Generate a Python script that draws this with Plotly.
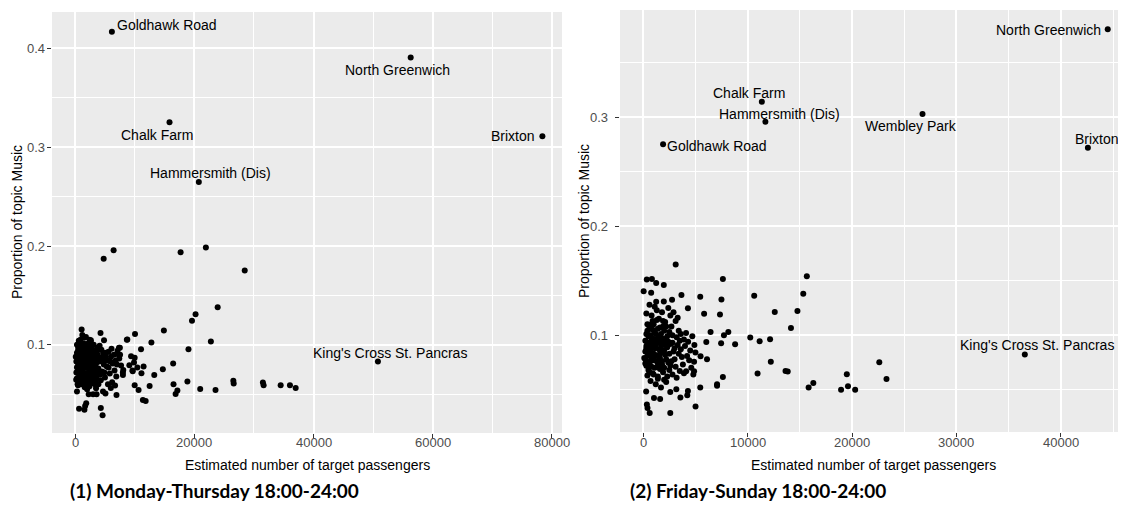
import plotly.graph_objects as go

# ---------------- data: (1) Monday-Thursday ----------------
left_x = [4780, 6450, 17690, 21930, 28450, 23910, 20200, 19600, 14880, 22770, 12790, 10040, 8670,
          19010, 11050, 16440, 14710, 13270, 11480, 11120, 18830, 16500, 17150, 16850, 20980, 23550,
          26540, 26600, 31500, 31620, 34480, 36040, 37000, 12490, 9980, 10640, 11360, 11830, 4600,
          4300, 1850, 1670, 650, 1550, 1080, 4250, 4840, 2630, 7530, 7350, 9380, 9980, 9090, 9620,
          8010, 8070, 6690, 6930, 5980, 5080, 4670, 3470, 3000, 3590, 2270, 300, 480, 170, 8750, 720,
          9650, 10430, 9870,
          300, 500, 400, 600, 300, 800, 500, 900, 1100, 1200, 1000, 1300, 1100, 1400, 1600, 1500,
          1700, 1900, 1800, 2000, 1600, 2200, 2100, 2400, 2600, 2300, 2700, 2500, 2800, 2900, 3100,
          3300, 3000, 3400, 3200, 3600, 3500, 3800, 4000, 3900, 4200, 4400, 4600, 4800, 4500, 5000,
          5200, 5400, 5600, 5800, 6000, 6300, 6600, 6900, 7100, 7400, 7700, 8000, 6200, 5500, 700,
          900, 1400, 1900, 2200, 2900, 3600, 4100, 200, 600, 1200, 1800, 2600, 3700, 400, 1000, 1500,
          2000, 2400, 3000, 200, 800, 1300, 1700, 2300, 2800, 3300, 4300, 4700, 5300, 5900, 6500,
          7000, 7500, 100, 700, 1600, 2100, 2500, 3500, 3900, 300, 1000, 1800, 2700, 3400,
          500, 700, 900, 1200, 1400, 1500, 1700, 1900, 2100, 2300, 2500, 2700, 2900, 3100, 3300,
          400, 600, 800, 1100, 1300, 1600, 1800, 2000, 2200, 2400, 2600, 2800, 3000, 3200, 3400,
          300, 900, 1500, 2100, 2700, 3800, 4100, 4600, 5100, 5600, 6100, 6800, 7300, 1200, 1900,
          2600, 3900, 4900, 600, 1000]
left_y = [0.187, 0.1957, 0.1937, 0.1985, 0.1751, 0.1379, 0.1308, 0.1244, 0.1145, 0.1034, 0.1023,
          0.1109, 0.105, 0.0956, 0.0956, 0.081, 0.0753, 0.0695, 0.078, 0.0713, 0.0628, 0.060, 0.0536,
          0.0503, 0.0553, 0.0543, 0.0635, 0.0607, 0.0617, 0.0591, 0.0591, 0.0591, 0.0563, 0.0584,
          0.0591, 0.0543, 0.0442, 0.0431, 0.0286, 0.036, 0.0408, 0.038, 0.0353, 0.0343, 0.1155,
          0.1119, 0.1046, 0.1046, 0.0898, 0.097, 0.0885, 0.0868, 0.0794, 0.0739, 0.0695, 0.0746,
          0.0587, 0.0492, 0.0563, 0.0506, 0.0526, 0.0591, 0.050, 0.050, 0.050, 0.0526, 0.0591,
          0.0645, 0.1054, 0.102, 0.0733, 0.077, 0.082,
          0.092, 0.085, 0.078, 0.071, 0.066, 0.060, 0.098, 0.102, 0.095, 0.088, 0.081, 0.074, 0.068,
          0.063, 0.057, 0.107, 0.099, 0.091, 0.084, 0.077, 0.070, 0.065, 0.059, 0.105, 0.097, 0.089,
          0.082, 0.076, 0.069, 0.062, 0.100, 0.093, 0.086, 0.079, 0.072, 0.066, 0.056, 0.090, 0.083,
          0.076, 0.070, 0.095, 0.087, 0.080, 0.073, 0.067, 0.092, 0.084, 0.077, 0.071, 0.088, 0.081,
          0.074, 0.068, 0.094, 0.086, 0.079, 0.072, 0.062, 0.060, 0.088, 0.075, 0.092, 0.071, 0.094,
          0.088, 0.082, 0.099, 0.083, 0.104, 0.110, 0.108, 0.103, 0.097, 0.060, 0.064, 0.066, 0.055,
          0.058, 0.061, 0.072, 0.094, 0.083, 0.079, 0.073, 0.079, 0.068, 0.064, 0.092, 0.078, 0.083,
          0.090, 0.080, 0.097, 0.088, 0.068, 0.087, 0.086, 0.069, 0.088, 0.071, 0.077, 0.090, 0.062,
          0.092, 0.064,
          0.095, 0.082, 0.070, 0.099, 0.086, 0.078, 0.093, 0.085, 0.080, 0.096, 0.088, 0.072, 0.095,
          0.083, 0.075, 0.089, 0.064, 0.079, 0.085, 0.070, 0.097, 0.067, 0.091, 0.078, 0.084, 0.066,
          0.086, 0.092, 0.078, 0.087, 0.100, 0.105, 0.101, 0.101, 0.099, 0.095, 0.087, 0.083, 0.088,
          0.093, 0.096, 0.084, 0.090, 0.060, 0.064, 0.061, 0.060, 0.072, 0.073, 0.097]
left_names = ["Goldhawk Road", "North Greenwich", "Chalk Farm", "Hammersmith (Dis)", "Brixton",
              "King's Cross St. Pancras"]
left_named_x = [6160, 56300, 15830, 20750, 78400, 50800]
left_named_y = [0.4169, 0.3909, 0.3254, 0.2648, 0.3112, 0.083]
left_xticks = [0, 20000, 40000, 60000, 80000]
left_yticks = [0.1, 0.2, 0.3, 0.4]

# ---------------- data: (2) Friday-Sunday ----------------
right_x = [3110, 15670, 7630, 15330, 10630, 7490, 5460, 14770, 12600, 7350, 5830, 4280, 3660, 14150,
           6450, 8150, 7730, 10250, 12150, 11150, 8800, 7460, 6040, 12220, 10950, 13630, 13840,
           22610, 23300, 19500, 19610, 18950, 20300, 16290, 15840, 7630, 7070, 7070, 5460, 5010, 2590,
           6110, 5490, 4870, 4870, 4110, 4280, 4220, 3560, 3170, 2590, 1030, 1620, 280, 410, 620, 350,
           40, 340, 830, 1240, 1970, 760, 1240, 1970, 2760,
           200, 300, 400, 200, 500, 300, 600, 500, 700, 800, 600, 900, 1000, 1100, 900, 1200, 1000,
           1300, 1100, 1400, 1500, 1400, 1600, 1500, 1700, 1600, 1800, 1900, 2000, 2100, 2000, 2200,
           2300, 2100, 2400, 2500, 2600, 2700, 2800, 2600, 2900, 3000, 3100, 3200, 3300, 3400, 3500,
           3600, 3700, 3800, 3900, 4100, 4300, 4500, 4700, 4900, 4400, 4600, 4800, 5000, 100, 400,
           700, 1200, 1700, 2200, 300, 800, 1300, 1800, 600, 1100, 2400, 2900, 3100, 1900, 900, 400,
           1500, 2500, 1300, 800, 3300, 3900, 2700, 1600, 500, 2300, 4200, 200, 1000, 1900, 2800,
           3500, 700, 1700,
           300, 500, 700, 900, 1100, 1300, 1500, 1700, 1900, 2100, 2300, 400, 600, 800, 1000, 1200,
           1400, 1600, 1800, 2000, 2200, 2400, 200, 500, 700, 900, 1100, 1300, 1500, 1700, 1900, 2500,
           2800, 3000, 3200, 3400, 300, 600, 1000, 1400, 2600, 3600, 4000, 800, 1200, 1600, 2000,
           2200, 400, 1800]
right_y = [0.165, 0.1542, 0.1515, 0.138, 0.1361, 0.1328, 0.1352, 0.1223, 0.1214, 0.119, 0.1196,
           0.1248, 0.137, 0.1067, 0.103, 0.103, 0.100, 0.0979, 0.0963, 0.0945, 0.0917, 0.0926, 0.0938,
           0.0755, 0.0648, 0.0672, 0.0666, 0.0752, 0.0598, 0.0642, 0.0531, 0.050, 0.050, 0.0562,
           0.0519, 0.0617, 0.055, 0.0535, 0.0519, 0.0345, 0.0286, 0.078, 0.0807, 0.0755, 0.0669,
           0.0669, 0.0488, 0.0449, 0.0427, 0.0504, 0.0479, 0.0424, 0.0415, 0.0483, 0.0332, 0.0286,
           0.0363, 0.1404, 0.1512, 0.1517, 0.148, 0.146, 0.1389, 0.1306, 0.131, 0.1325,
           0.095, 0.088, 0.081, 0.074, 0.068, 0.101, 0.107, 0.092, 0.085, 0.078, 0.072, 0.065, 0.110,
           0.103, 0.097, 0.090, 0.083, 0.076, 0.070, 0.062, 0.115, 0.106, 0.099, 0.093, 0.086, 0.079,
           0.073, 0.066, 0.059, 0.112, 0.104, 0.097, 0.089, 0.082, 0.075, 0.068, 0.118, 0.108, 0.100,
           0.092, 0.085, 0.078, 0.071, 0.061, 0.116, 0.104, 0.095, 0.087, 0.080, 0.073, 0.065, 0.102,
           0.094, 0.086, 0.099, 0.091, 0.077, 0.070, 0.064, 0.084, 0.079, 0.063, 0.058, 0.055, 0.052,
           0.057, 0.120, 0.118, 0.123, 0.121, 0.128, 0.126, 0.125, 0.121, 0.113, 0.108, 0.113, 0.110,
           0.087, 0.083, 0.096, 0.091, 0.091, 0.096, 0.076, 0.069, 0.075, 0.062, 0.081, 0.085, 0.077,
           0.094, 0.064, 0.067, 0.100, 0.101,
           0.090, 0.083, 0.094, 0.080, 0.088, 0.081, 0.098, 0.092, 0.084, 0.091, 0.099, 0.104, 0.087,
           0.071, 0.093, 0.101, 0.074, 0.107, 0.097, 0.086, 0.078, 0.094, 0.078, 0.099, 0.076, 0.105,
           0.082, 0.114, 0.071, 0.088, 0.113, 0.103, 0.093, 0.088, 0.098, 0.083, 0.072, 0.066, 0.064,
           0.060, 0.072, 0.101, 0.090, 0.110, 0.096, 0.083, 0.070, 0.108, 0.093, 0.076]
right_names = ["North Greenwich", "Chalk Farm", "Hammersmith (Dis)", "Goldhawk Road", "Wembley Park",
               "Brixton", "King's Cross St. Pancras"]
right_named_x = [44490, 11360, 11700, 1900, 26750, 42590, 36550]
right_named_y = [0.381, 0.3144, 0.296, 0.2753, 0.3031, 0.2722, 0.0823]
right_xticks = [0, 10000, 20000, 30000, 40000]
right_yticks = [0.1, 0.2, 0.3]

captions = ["(1) Monday-Thursday 18:00-24:00", "(2) Friday-Sunday 18:00-24:00"]
x_title = "Estimated number of target passengers"
y_title = "Proportion of topic Music"

# ---------------- styling / layout ----------------
# The page body has an 8px margin, so the figure is drawn 8px smaller and all
# positions below are given in window pixels and converted.
OFF = 8
W, H = 1126 - OFF, 508 - OFF
TXT = "Liberation Sans, Arial, sans-serif"
marker = dict(color="black", size=6)


def px(xp):
    return (xp - OFF) / W


def py(yp):
    return 1 - (yp - OFF) / H


# label placement: (xanchor, xshift, yshift) in pixels
left_label_pos = [("left", 3, 7), ("center", -13, -13), ("center", -13, -13), ("center", 12, 9),
                  ("right", -5, 0), ("center", 12, 9)]
right_label_pos = [("right", -5, -1), ("center", -13, 9), ("center", 14, 8), ("left", 2, -2),
                   ("center", -12, -12), ("center", 9, 9), ("center", 12, 9)]

fig = go.Figure()
fig.add_trace(go.Scatter(x=left_x + left_named_x, y=left_y + left_named_y, mode="markers",
                         marker=marker, xaxis="x", yaxis="y", showlegend=False))
fig.add_trace(go.Scatter(x=right_x + right_named_x, y=right_y + right_named_y, mode="markers",
                         marker=marker, xaxis="x2", yaxis="y2", showlegend=False))

lab_font = dict(family=TXT, size=14, color="black")
tick_font = dict(family=TXT, size=13, color="#4d4d4d")
annotations = []
for name, x, y, (xa, xs, ys) in zip(left_names, left_named_x, left_named_y, left_label_pos):
    annotations.append(dict(x=x, y=y, xref="x", yref="y", text=name, showarrow=False,
                            xanchor=xa, yanchor="middle", xshift=xs, yshift=ys, font=lab_font))
for name, x, y, (xa, xs, ys) in zip(right_names, right_named_x, right_named_y, right_label_pos):
    annotations.append(dict(x=x, y=y, xref="x2", yref="y2", text=name, showarrow=False,
                            xanchor=xa, yanchor="middle", xshift=xs, yshift=ys, font=lab_font))

# tick labels
for ticks, xr in ((left_xticks, "x"), (right_xticks, "x2")):
    for t in ticks:
        annotations.append(dict(x=t, y=py(442), xref=xr, yref="paper", text=str(t),
                                showarrow=False, xanchor="center", yanchor="middle", font=tick_font))
for ticks, yr, rx in ((left_yticks, "y", 47), (right_yticks, "y2", 610)):
    for t in ticks:
        annotations.append(dict(x=px(rx), y=t, xref="paper", yref=yr, text=f"{t:.1f}",
                                showarrow=False, xanchor="right", yanchor="middle", font=tick_font))

# axis titles
for cx in (307, 873):
    annotations.append(dict(x=px(cx), y=py(465), xref="paper", yref="paper", text=x_title,
                            showarrow=False, xanchor="center", yanchor="middle", font=lab_font))
for cx, cy in ((17, 222), (584, 221)):
    annotations.append(dict(x=px(cx), y=py(cy), xref="paper", yref="paper", text=y_title,
                            showarrow=False, textangle=-90, xanchor="center", yanchor="middle",
                            font=lab_font))
# captions
for cap, lx in zip(captions, (68, 628)):
    annotations.append(dict(x=px(lx), y=py(490), xref="paper", yref="paper", text="<b>" + cap + "</b>",
                            showarrow=False, xanchor="left", yanchor="middle",
                            font=dict(family="Lato, sans-serif", size=19, color="black")))

common = dict(showgrid=True, gridcolor="white", gridwidth=1.6, zeroline=False, showline=False,
              ticks="outside", ticklen=4, tickwidth=1, tickcolor="#333333", showticklabels=False)

fig.update_layout(
    width=W, height=H, margin=dict(l=0, r=0, t=0, b=0),
    paper_bgcolor="white", plot_bgcolor="#ebebeb",
    xaxis=dict(domain=[px(52), px(562)], range=[-3890, 81690], tickvals=left_xticks, anchor="y",
               minor=dict(dtick=10000, tick0=0, showgrid=True, gridcolor="white", gridwidth=0.8),
               **common),
    yaxis=dict(domain=[py(433), py(12)], range=[0.0107, 0.4369], tickvals=left_yticks, anchor="x",
               minor=dict(dtick=0.05, tick0=0, showgrid=True, gridcolor="white", gridwidth=0.8),
               **common),
    xaxis2=dict(domain=[px(620), 1.0], range=[-2225, 46240], tickvals=right_xticks, anchor="y2",
                minor=dict(dtick=5000, tick0=0, showgrid=True, gridcolor="white", gridwidth=0.8),
                **common),
    yaxis2=dict(domain=[py(432), py(10)], range=[0.0111, 0.3986], tickvals=right_yticks, anchor="x2",
                minor=dict(dtick=0.05, tick0=0, showgrid=True, gridcolor="white", gridwidth=0.8),
                **common),
    annotations=annotations,
)

fig.write_html("out.html")
